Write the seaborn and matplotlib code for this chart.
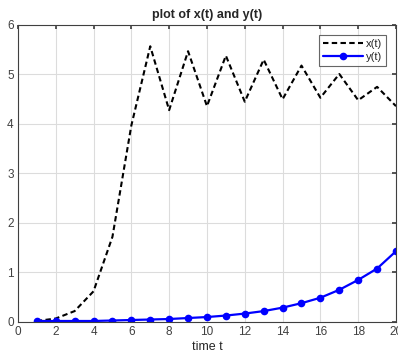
import matplotlib
matplotlib.use("Agg")
import matplotlib.pyplot as plt
import seaborn as sns
import pandas as pd

t = list(range(1, 21))
x_vals = [0.02, 0.07, 0.22, 0.62, 1.72, 3.97, 5.57, 4.28, 5.47, 4.36,
          5.38, 4.45, 5.30, 4.50, 5.18, 4.53, 5.01, 4.48, 4.75, 4.36]
y_vals = [0.02, 0.02, 0.02, 0.02, 0.03, 0.04, 0.05, 0.06, 0.08, 0.10,
          0.13, 0.17, 0.22, 0.29, 0.38, 0.49, 0.65, 0.85, 1.08, 1.43]
x_ticks = list(range(0, 21, 2))
y_ticks = list(range(0, 7))

sns.set_theme(style="whitegrid")
plt.rcParams['font.family'] = ['Liberation Sans', 'DejaVu Sans']

df = pd.DataFrame({"t": t, "x": x_vals, "y": y_vals})

fig = plt.figure(figsize=(3.98, 3.58), dpi=100)
ax = fig.add_axes([0.045, 0.1006, 0.95, 0.8296])

sns.lineplot(data=df, x="t", y="x", ax=ax, color="black", linewidth=1.5,
             linestyle=(0, (2.6, 1.6)), label="x(t)")
sns.lineplot(data=df, x="t", y="y", ax=ax, color="#0000ff", linewidth=1.6,
             marker="o", markersize=5.5, markeredgewidth=0, label="y(t)")

ax.set_xlim(0, 20)
ax.set_ylim(0, 6)
ax.set_xticks(x_ticks)
ax.set_yticks(y_ticks)
ax.tick_params(axis="both", labelsize=8.5, labelcolor="#404040", colors="#404040",
               direction="in", length=3, top=True, right=True, pad=3)
for s in ax.spines.values():
    s.set_color("#404040")
    s.set_linewidth(0.8)
ax.grid(True, color="#dcdcdc", linewidth=0.8)
ax.set_facecolor("white")
ax.set_xlabel("time t", fontsize=9, color="#262626", labelpad=2)
ax.set_ylabel("")
ax.set_title("plot of x(t) and y(t)", fontsize=9, fontweight="bold", pad=5)

leg = ax.legend(loc="upper right", fontsize=8, frameon=True, fancybox=False,
                borderpad=0.35, handlelength=3.6, handletextpad=0.25,
                labelspacing=0.25, borderaxespad=0.9)
leg.get_frame().set_edgecolor("#404040")
leg.get_frame().set_linewidth(0.8)
for txt in leg.get_texts():
    txt.set_color("#262626")

fig.savefig("out.png", dpi=100)
